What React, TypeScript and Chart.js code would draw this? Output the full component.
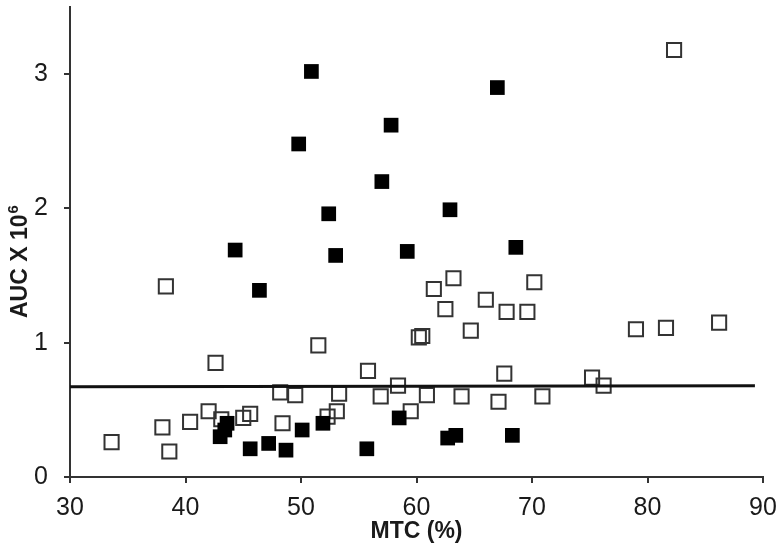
import React, { useEffect, useRef } from "react";
import { Chart, registerables } from "chart.js";

Chart.register(...registerables);

// MTC (%) vs AUC x 10^6 — filled squares
const filledX = [50.9, 49.8, 57.8, 57.0, 52.4, 44.3, 53.0, 67.0, 62.9, 59.2, 68.6, 46.4, 43.0, 43.4, 43.6, 45.6, 47.2, 48.7, 50.1, 51.9, 55.7, 58.5, 62.7, 63.4, 68.3];
const filledY = [3.02, 2.48, 2.62, 2.20, 1.96, 1.69, 1.65, 2.90, 1.99, 1.68, 1.71, 1.39, 0.30, 0.35, 0.40, 0.21, 0.25, 0.20, 0.35, 0.40, 0.21, 0.44, 0.29, 0.31, 0.31];

// open squares
const openX = [82.3, 38.3, 51.5, 42.6, 55.8, 58.4, 48.2, 49.5, 53.3, 56.9, 42.0, 43.1, 45.0, 45.6, 40.4, 38.0, 33.6, 38.6, 48.4, 52.3, 53.1, 63.2, 61.5, 70.2, 66.0, 62.5, 67.8, 69.6, 64.7, 60.2, 60.5, 79.0, 81.6, 86.2, 67.6, 75.2, 76.2, 60.9, 63.9, 67.1, 70.9, 59.5];
const openY = [3.18, 1.42, 0.98, 0.85, 0.79, 0.68, 0.63, 0.61, 0.62, 0.60, 0.49, 0.43, 0.44, 0.47, 0.41, 0.37, 0.26, 0.19, 0.40, 0.45, 0.49, 1.48, 1.40, 1.45, 1.32, 1.25, 1.23, 1.23, 1.09, 1.04, 1.05, 1.10, 1.11, 1.15, 0.77, 0.74, 0.68, 0.61, 0.60, 0.56, 0.60, 0.49];

// regression line
const lineX = [30, 89.3];
const lineY = [0.672, 0.68];

const xTicks = [30, 40, 50, 60, 70, 80, 90];
const yTicks = [0, 1, 2, 3];

const xTitle = "MTC (%)";
const yTitleMain = "AUC X 10";
const yTitleSup = "6";

const FONT = "'Liberation Sans', Arial, Helvetica, sans-serif";

export default function App() {
  const ref = useRef<HTMLCanvasElement | null>(null);

  useEffect(() => {
    const canvas = ref.current;
    if (!canvas) return;

    const yTitlePlugin = {
      id: "yTitle",
      afterDraw(chart: any) {
        const ctx = chart.ctx;
        ctx.save();
        ctx.translate(27, 318);
        ctx.rotate(-Math.PI / 2);
        ctx.fillStyle = "#1a1a1a";
        ctx.textAlign = "left";
        ctx.textBaseline = "alphabetic";
        ctx.font = `bold 23px ${FONT}`;
        ctx.fillText(yTitleMain, 0, 0);
        const w = ctx.measureText(yTitleMain).width;
        ctx.font = `bold 15px ${FONT}`;
        ctx.fillText(yTitleSup, w + 1, -9);
        ctx.restore();
      },
    };

    const chart = new Chart(canvas, {
      type: "scatter",
      data: {
        datasets: [
          {
            label: "filled",
            data: filledX.map((x, i) => ({ x, y: filledY[i] })),
            pointStyle: "rect",
            pointRadius: 10.4,
            pointBackgroundColor: "#000000",
            pointBorderColor: "#000000",
            pointBorderWidth: 0,
            showLine: false,
          },
          {
            label: "fit",
            type: "line",
            data: lineX.map((x, i) => ({ x, y: lineY[i] })),
            borderColor: "#111111",
            borderWidth: 3,
            pointRadius: 0,
            showLine: true,
            fill: false,
          } as any,
          {
            label: "open",
            data: openX.map((x, i) => ({ x, y: openY[i] })),
            pointStyle: "rect",
            pointRadius: 10,
            pointBackgroundColor: "rgba(255,255,255,0)",
            pointBorderColor: "#333333",
            pointBorderWidth: 2,
            showLine: false,
          },
        ],
      },
      options: {
        responsive: false,
        animation: false,
        events: [],
        layout: { autoPadding: false, padding: { left: 0, right: 19, top: 7, bottom: 0 } },
        plugins: {
          legend: { display: false },
          tooltip: { enabled: false },
          title: { display: false },
        },
        scales: {
          x: {
            type: "linear",
            min: 30,
            max: 90,
            afterFit(scale: any) {
              scale.height = 72;
              scale.paddingLeft = 0;
              scale.paddingRight = 0;
            },
            afterBuildTicks(scale: any) {
              scale.ticks = xTicks.map((v) => ({ value: v }));
            },
            grid: {
              drawOnChartArea: false,
              drawTicks: true,
              tickLength: 6,
              color: "#333333",
              lineWidth: 2,
            },
            border: { display: true, color: "#333333", width: 2 },
            ticks: {
              padding: 10,
              color: "#1a1a1a",
              font: { family: FONT, size: 25 },
              maxRotation: 0,
            },
            title: {
              display: true,
              text: xTitle,
              color: "#1a1a1a",
              font: { family: FONT, size: 23, weight: "bold" },
              padding: { top: 0, bottom: 4 },
            },
          },
          y: {
            type: "linear",
            min: 0,
            max: 3.5,
            afterFit(scale: any) {
              scale.width = 70;
              scale.paddingTop = 0;
              scale.paddingBottom = 0;
            },
            afterBuildTicks(scale: any) {
              scale.ticks = yTicks.map((v) => ({ value: v }));
            },
            grid: {
              drawOnChartArea: false,
              drawTicks: true,
              tickLength: 6,
              color: "#333333",
              lineWidth: 2,
            },
            border: { display: true, color: "#333333", width: 2 },
            ticks: {
              padding: 16,
              color: "#1a1a1a",
              font: { family: FONT, size: 25 },
            },
          },
        },
      },
      plugins: [yTitlePlugin],
    } as any);

    return () => chart.destroy();
  }, []);

  return (
    <div style={{ position: "fixed", left: 0, top: 0, width: 782, height: 549, background: "#ffffff" }}>
      <canvas ref={ref} width={782} height={549} style={{ display: "block" }} />
    </div>
  );
}
